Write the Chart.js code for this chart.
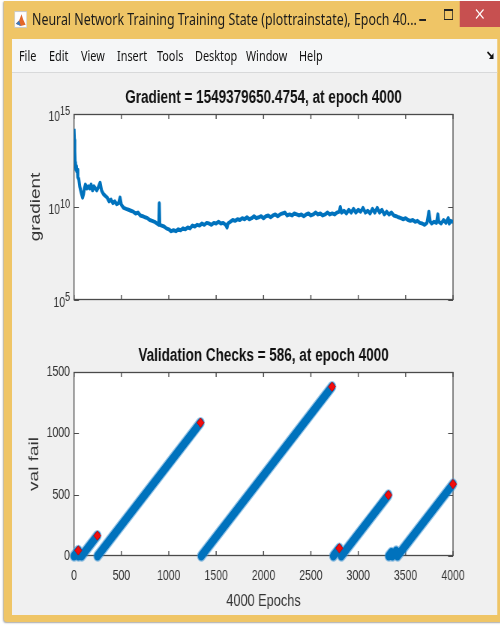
<!DOCTYPE html>
<html>
<head>
<meta charset="utf-8">
<script src="https://cdn.jsdelivr.net/npm/chart.js@4.4.1/dist/chart.umd.min.js"></script>
<style>
  html, body { margin: 0; background: #fff; }
  #win { position: absolute; left: 0; top: 0; width: 666.67px; height: 626px;
         transform: scaleX(0.75); transform-origin: 0 0; overflow: hidden; }
  .abs { position: absolute; }
  .frame { left: 5.3px; top: 1px; width: 662px; height: 621px; background: #efc566;
           border-radius: 0 0 0 4px; box-shadow: 0 1px 2px rgba(0,0,0,0.35); }
  .caption { left: 42.7px; top: 7px; font: 16.5px "Segoe UI", "Noto Sans", sans-serif;
             color: #1b1b1b; white-space: nowrap; }
  .close { left: 613.3px; top: 1px; width: 53.4px; height: 26px; background: #c75050; }
  .menubar { left: 16px; top: 39px; width: 646.7px; height: 33px; background: #f5f6f7;
             border-bottom: 1px solid #d8d9da; }
  .menubar span { position: absolute; top: 6px; font: 14.5px "Segoe UI", "Noto Sans", sans-serif; color: #111; }
  .content { left: 16px; top: 73px; width: 646.7px; height: 542px; background: #f0f0f0; }
  canvas { position: absolute; }
</style>
</head>
<body>
<div id="win">
  <div class="abs frame"></div>
  <svg class="abs" style="left:18.7px;top:11px" width="17.3" height="17" viewBox="0 0 16 16" preserveAspectRatio="none">
    <rect x="0.5" y="0.5" width="15" height="15" fill="#fdfdfd" stroke="#c9c9c9"/>
    <polygon points="2,12 6,9 9,3 11,8 14,13 8,14" fill="#e2672a"/>
    <polygon points="2,12 6,9 8,14" fill="#3a7bc0"/>
  </svg>
  <div class="abs caption">Neural Network Training Training State (plottrainstate), Epoch 40...</div>
  <div class="abs" style="left:558.7px;top:19px;width:9.3px;height:2px;background:#222"></div>
  <div class="abs" style="left:592px;top:9px;width:10px;height:8px;border:1.3px solid #222;border-top-width:2.5px"></div>
  <div class="abs close">
    <svg width="53.4" height="26" viewBox="0 0 53.4 26">
      <line x1="21.7" y1="8.5" x2="31.7" y2="17.5" stroke="#fff" stroke-width="1.6"/>
      <line x1="31.7" y1="8.5" x2="21.7" y2="17.5" stroke="#fff" stroke-width="1.6"/>
    </svg>
  </div>
  <div class="abs menubar">
    <span style="left:9.3px">File</span>
    <span style="left:49.3px">Edit</span>
    <span style="left:92px">View</span>
    <span style="left:140px">Insert</span>
    <span style="left:193.3px">Tools</span>
    <span style="left:244px">Desktop</span>
    <span style="left:312px">Window</span>
    <span style="left:382.7px">Help</span>
    <svg style="position:absolute;left:633px;top:12px" width="11" height="10" viewBox="0 0 11 10">
      <path d="M1 1 L7 6" stroke="#111" stroke-width="2"/>
      <path d="M3 8 L9 8 L9 2 Z" fill="#111"/>
    </svg>
  </div>
  <div class="abs content"></div>
  <canvas id="gradChart" width="646" height="250" style="left:16px;top:80px"></canvas>
  <canvas id="valChart" width="646" height="275" style="left:16px;top:340px"></canvas>
</div>

<script>
// gradient per epoch
const gradEpochs = [
  0, 4, 8, 12, 16, 20, 25, 30, 35, 40,
  50, 60, 70, 80, 90, 100, 110, 120, 135, 150,
  165, 180, 195, 210, 225, 240, 255, 275, 290, 310,
  330, 350, 370, 390, 410, 430, 450, 470, 486, 500,
  525, 550, 575, 600, 625, 650, 675, 700, 725, 750,
  775, 800, 825, 850, 875, 895, 900, 905, 925, 950,
  975, 1000, 1025, 1050, 1075, 1100, 1125, 1150, 1175, 1200,
  1225, 1250, 1275, 1300, 1325, 1350, 1375, 1400, 1425, 1450,
  1475, 1500, 1525, 1550, 1575, 1600, 1615, 1625, 1650, 1675,
  1700, 1725, 1750, 1775, 1800, 1825, 1850, 1875, 1900, 1925,
  1950, 1975, 2000, 2025, 2050, 2075, 2100, 2125, 2150, 2175,
  2200, 2225, 2250, 2275, 2300, 2325, 2350, 2375, 2400, 2425,
  2450, 2475, 2500, 2525, 2550, 2575, 2600, 2625, 2650, 2675,
  2700, 2725, 2750, 2775, 2800, 2810, 2825, 2850, 2875, 2900,
  2925, 2950, 2975, 3000, 3025, 3050, 3075, 3100, 3125, 3150,
  3175, 3200, 3225, 3250, 3275, 3300, 3325, 3350, 3375, 3400,
  3425, 3450, 3475, 3500, 3525, 3550, 3575, 3600, 3625, 3650,
  3675, 3700, 3725, 3745, 3760, 3775, 3800, 3825, 3840, 3850,
  3875, 3900, 3925, 3950, 3960, 3975, 4000
];
const gradValues = [
  1.6e14, 4.0e13, 1.0e13, 2.5e12, 2.0e12, 1.0e12, 1.6e12, 7.9e11, 1.0e12, 4.0e11,
  3.2e11, 1.3e11, 7.9e10, 5.0e10, 3.2e10, 5.0e10, 1.0e11, 1.6e11, 1.0e11, 1.3e11,
  1.0e11, 1.6e11, 7.9e10, 1.3e11, 1.0e11, 7.9e10, 1.1e11, 2.0e11, 7.9e10, 5.0e10,
  4.0e10, 3.2e10, 2.0e10, 2.5e10, 1.6e10, 2.0e10, 1.4e10, 1.6e10, 3.2e10, 1.3e10,
  8.9e9, 7.9e9, 7.1e9, 6.3e9, 5.6e9, 4.5e9, 5.0e9, 3.5e9, 3.2e9, 2.8e9,
  2.5e9, 2.0e9, 1.8e9, 1.6e9, 1.3e9, 1.1e9, 1.6e10, 1.1e9, 1.0e9, 8.9e8,
  7.1e8, 6.3e8, 5.0e8, 5.6e8, 5.0e8, 6.3e8, 5.6e8, 7.1e8, 6.3e8, 7.9e8,
  7.1e8, 1.0e9, 8.9e8, 1.1e9, 1.0e9, 1.3e9, 1.1e9, 1.4e9, 1.3e9, 1.1e9,
  1.4e9, 1.3e9, 1.6e9, 1.3e9, 1.4e9, 1.1e9, 7.9e8, 1.3e9, 1.6e9, 2.0e9,
  1.8e9, 2.2e9, 2.0e9, 2.5e9, 2.2e9, 2.8e9, 2.2e9, 2.5e9, 3.2e9, 2.5e9,
  2.8e9, 3.2e9, 2.5e9, 3.2e9, 3.5e9, 2.8e9, 3.5e9, 4.0e9, 3.2e9, 4.0e9,
  4.5e9, 5.0e9, 3.5e9, 4.0e9, 3.5e9, 4.5e9, 4.0e9, 3.5e9, 4.0e9, 3.2e9,
  4.0e9, 4.5e9, 3.5e9, 4.0e9, 5.0e9, 4.0e9, 4.5e9, 3.5e9, 4.0e9, 5.0e9,
  4.0e9, 4.5e9, 4.0e9, 5.0e9, 5.6e9, 1.0e10, 5.0e9, 6.3e9, 4.5e9, 7.1e9,
  5.0e9, 7.9e9, 5.0e9, 7.1e9, 5.6e9, 8.9e9, 5.0e9, 6.3e9, 4.5e9, 7.9e9,
  5.0e9, 8.9e9, 5.0e9, 7.1e9, 4.0e9, 5.6e9, 4.0e9, 5.0e9, 3.5e9, 3.2e9,
  2.8e9, 2.5e9, 2.2e9, 2.5e9, 2.0e9, 1.8e9, 2.0e9, 1.6e9, 1.8e9, 1.4e9,
  1.3e9, 1.1e9, 1.4e9, 5.6e9, 1.6e9, 1.3e9, 1.6e9, 1.4e9, 4.0e9, 1.6e9,
  1.3e9, 2.0e9, 1.4e9, 2.5e9, 1.3e9, 1.8e9, 1549379650.4754
];
const gradTicks = [1e5, 1e10, 1e15];

// validation failure runs: each run climbs from 0 at its start epoch to its peak
const runStart = [0, 46, 80, 248, 1343, 2737, 2821, 3322, 3360, 3414];
const runEnd   = [45, 70, 246, 1335, 2723, 2800, 3318, 3350, 3400, 4000];
const runPeak  = [45, 24, 166, 1087, 1380, 63, 497, 28, 40, 586];
// red diamonds at the end of each run
const markEpochs = [45, 246, 1335, 2723, 2800, 3318, 4000];
const markFails  = [45, 166, 1087, 1380, 63, 497, 586];

const FONT = '"Liberation Sans", Arial, Helvetica, sans-serif';
Chart.defaults.font.family = FONT;
Chart.defaults.color = '#333';

// white plot box with MATLAB style inward ticks
const matlabBox = {
  id: 'matlabBox',
  beforeDatasetsDraw(chart) {
    const { ctx, chartArea: a, scales: { x, y } } = chart;
    ctx.save();
    ctx.fillStyle = '#fff';
    ctx.fillRect(a.left, a.top, a.right - a.left, a.bottom - a.top);
    ctx.strokeStyle = '#4a4a4a';
    ctx.lineWidth = 1.3;
    ctx.strokeRect(a.left, a.top + 0.5, a.right - a.left, a.bottom - a.top - 1);
    ctx.lineWidth = 1.4;
    ctx.beginPath();
    x.ticks.forEach(t => {
      const px = x.getPixelForValue(t.value);
      ctx.moveTo(px, a.bottom); ctx.lineTo(px, a.bottom - 5);
      ctx.moveTo(px, a.top); ctx.lineTo(px, a.top + 5);
    });
    ctx.stroke();
    ctx.lineWidth = 1;
    ctx.beginPath();
    y.ticks.forEach(t => {
      const py = Math.round(y.getPixelForValue(t.value)) + 0.5;
      ctx.moveTo(a.left, py); ctx.lineTo(a.left + 6.5, py);
      ctx.moveTo(a.right, py); ctx.lineTo(a.right - 6.5, py);
    });
    ctx.stroke();
    ctx.restore();
  }
};

// "10" with a raised exponent for the log axis
const powerLabels = {
  id: 'powerLabels',
  afterDraw(chart) {
    const { ctx, chartArea: a, scales: { y } } = chart;
    ctx.save();
    ctx.fillStyle = '#333';
    ctx.textBaseline = 'alphabetic';
    y.ticks.forEach(t => {
      const py = y.getPixelForValue(t.value);
      const exp = String(Math.round(Math.log10(t.value)));
      ctx.font = '12px ' + FONT;
      const ex = a.left - 5.3 - ctx.measureText(exp).width;
      ctx.textAlign = 'left';
      ctx.fillText(exp, ex, py + 1);
      ctx.font = '14px ' + FONT;
      ctx.textAlign = 'right';
      ctx.fillText('10', ex, py + 7);
    });
    ctx.restore();
  }
};

function titleOpts(text, top, bottom) {
  return {
    display: true, text: text, fullSize: false, color: '#111',
    font: { size: 18, weight: 'bold' }, padding: { top: top, bottom: bottom }
  };
}

const plainTick = v => String(v);

new Chart(document.getElementById('gradChart'), {
  type: 'line',
  data: {
    datasets: [{
      data: gradEpochs.map((e, i) => ({ x: e, y: gradValues[i] })),
      borderColor: '#0072BD',
      borderWidth: 4,
      borderJoinStyle: 'round',
      pointRadius: 0,
      tension: 0
    }]
  },
  options: {
    responsive: false,
    animation: false,
    layout: { padding: { left: 0, right: 58, top: 0, bottom: 0 } },
    plugins: {
      legend: { display: false },
      tooltip: { enabled: false },
      title: titleOpts('Gradient = 1549379650.4754, at epoch 4000', 7.2, 5.2)
    },
    scales: {
      x: {
        type: 'linear', min: 0, max: 4000,
        ticks: { display: false, stepSize: 500 },
        grid: { display: false, drawTicks: false },
        border: { display: false },
        afterFit(s) { s.height = 30; }
      },
      y: {
        type: 'logarithmic', min: 1e5, max: 1e15,
        afterBuildTicks(s) { s.ticks = gradTicks.map(v => ({ value: v })); },
        ticks: { display: false },
        grid: { display: false, drawTicks: false },
        border: { display: false },
        title: { display: true, text: 'gradient', color: '#333', font: { size: 19 }, padding: { top: 20.6, bottom: 0 } },
        afterFit(s) { s.width = 82.7; }
      }
    }
  },
  plugins: [matlabBox, powerLabels]
});

const runPoints = [];
runStart.forEach((s, i) => {
  runPoints.push({ x: s, y: 0 }, { x: runEnd[i], y: runPeak[i] }, { x: runEnd[i], y: null });
});

new Chart(document.getElementById('valChart'), {
  type: 'line',
  data: {
    datasets: [{
      data: markEpochs.map((e, i) => ({ x: e, y: markFails[i] })),
      showLine: false,
      pointStyle: 'rectRot',
      pointRadius: 4.6,
      pointBackgroundColor: '#f20d0d',
      pointBorderColor: '#d40000',
      pointBorderWidth: 1,
      clip: false,
      order: 0
    }, {
      data: runPoints,
      borderColor: '#0072BD',
      borderWidth: 9,
      borderCapStyle: 'round',
      borderJoinStyle: 'round',
      pointRadius: 0,
      spanGaps: false,
      clip: false,
      order: 1
    }, {
      data: runPoints,
      borderColor: 'rgba(60,145,210,0.55)',
      borderWidth: 11.5,
      borderCapStyle: 'round',
      borderJoinStyle: 'round',
      pointRadius: 0,
      spanGaps: false,
      clip: false,
      order: 2
    }]
  },
  options: {
    responsive: false,
    animation: false,
    layout: { padding: { left: 0, right: 58, top: 0, bottom: 0 } },
    plugins: {
      legend: { display: false },
      tooltip: { enabled: false },
      title: titleOpts('Validation Checks = 586, at epoch 4000', 5.7, 4.7)
    },
    scales: {
      x: {
        type: 'linear', min: 0, max: 4000,
        ticks: { stepSize: 500, padding: 12, maxRotation: 0, autoSkip: false, font: { size: 14 }, color: '#333', callback: plainTick },
        grid: { display: false, drawTicks: false, tickLength: 0 },
        border: { display: false },
        title: { display: true, text: '4000 Epochs', color: '#333', font: { size: 17 }, padding: { top: 0, bottom: 3.3 } },
        afterFit(s) { s.height = 59; }
      },
      y: {
        type: 'linear', min: 0, max: 1500,
        ticks: { stepSize: 500, padding: 5.3, font: { size: 14 }, color: '#333', callback: plainTick },
        grid: { display: false, drawTicks: false, tickLength: 0 },
        border: { display: false },
        title: { display: true, text: 'val fail', color: '#333', font: { size: 19 }, padding: { top: 18.6, bottom: 0 } },
        afterFit(s) { s.width = 82.7; }
      }
    }
  },
  plugins: [matlabBox]
});
</script>
</body>
</html>
